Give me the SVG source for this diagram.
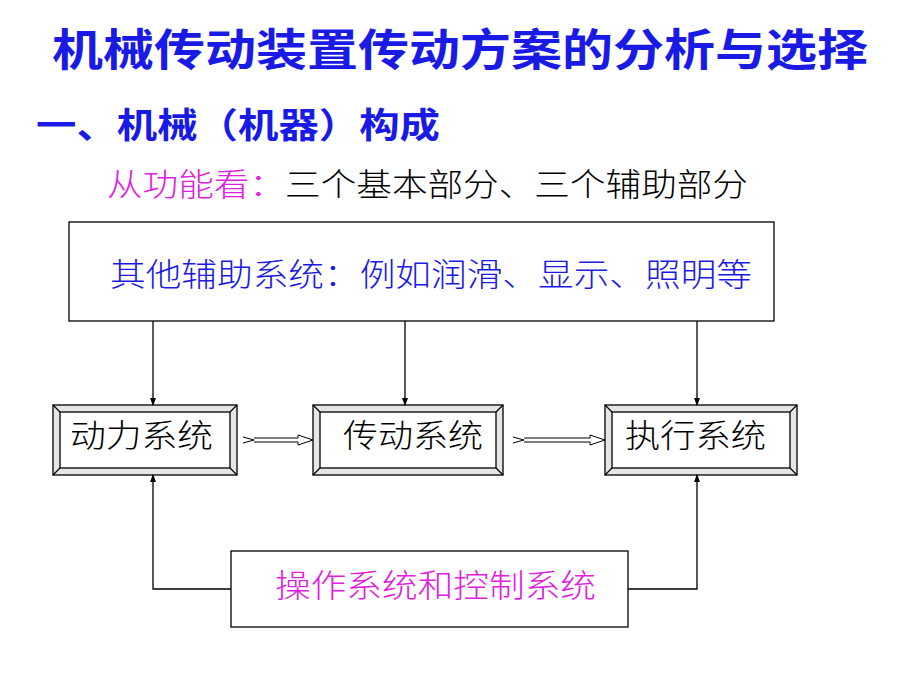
<svg xmlns="http://www.w3.org/2000/svg" width="920" height="690" viewBox="0 0 920 690">
<style>
text{font-family:"Liberation Serif","Noto Sans CJK SC",serif}
.b{font-family:"Noto Sans CJK SC",sans-serif;font-weight:bold;fill:#1a1ae6}
.box{fill:#fff;stroke:#000;stroke-width:1.3}
.bev{fill:#e6e6e6;stroke:#000;stroke-width:1.3}
.ln{fill:none;stroke:#000;stroke-width:1.3}
.t{font-size:32px;fill:#000;font-weight:300}
</style>
<defs>
<marker id="ah" markerWidth="8" markerHeight="8" refX="7" refY="4" orient="auto" markerUnits="userSpaceOnUse"><path d="M0,1 L8,4 L0,7 Z" fill="#000"/></marker>
</defs>
<rect width="920" height="690" fill="#fff"/>
<text class="b" x="52" y="66" font-size="44" textLength="816" lengthAdjust="spacingAndGlyphs">机械传动装置传动方案的分析与选择</text>
<text class="b" x="36" y="138" font-size="35" textLength="404" lengthAdjust="spacingAndGlyphs">一、机械（机器）构成</text>
<text x="107" y="196" font-size="32" font-weight="300" textLength="641" lengthAdjust="spacingAndGlyphs"><tspan fill="#e020e0">从功能看：</tspan><tspan fill="#000">三个基本部分、三个辅助部分</tspan></text>
<g id="top"><rect class="box" x="69" y="222" width="705" height="99"/>
<text x="110" y="286" font-size="32" font-weight="300" fill="#1a1ae6" textLength="642" lengthAdjust="spacingAndGlyphs">其他辅助系统：例如润滑、显示、照明等</text></g>
<g id="power"><rect class="bev" x="53" y="405" width="184" height="70"/><rect class="box" x="60" y="412" width="170" height="56"/>
<path class="ln" d="M53,405 L60,412 M237,405 L230,412 M53,475 L60,468 M237,475 L230,468"/>
<text class="t" x="70" y="447" textLength="143" lengthAdjust="spacingAndGlyphs">动力系统</text></g>
<g id="trans"><rect class="bev" x="313" y="405" width="190" height="70"/><rect class="box" x="320" y="412" width="176" height="56"/>
<path class="ln" d="M313,405 L320,412 M503,405 L496,412 M313,475 L320,468 M503,475 L496,468"/>
<text class="t" x="343" y="447" textLength="140" lengthAdjust="spacingAndGlyphs">传动系统</text></g>
<g id="exec"><rect class="bev" x="605" y="405" width="192" height="70"/><rect class="box" x="612" y="412" width="178" height="56"/>
<path class="ln" d="M605,405 L612,412 M797,405 L790,412 M605,475 L612,468 M797,475 L790,468"/>
<text class="t" x="625" y="447" textLength="141" lengthAdjust="spacingAndGlyphs">执行系统</text></g>
<g id="ctrl"><rect class="box" x="231" y="551" width="397" height="76"/>
<text x="275" y="597" font-size="32" font-weight="300" fill="#e020e0" textLength="321" lengthAdjust="spacingAndGlyphs">操作系统和控制系统</text></g>
<g id="connectors">
<path class="ln" d="M153,321 V405" marker-end="url(#ah)"/>
<path class="ln" d="M405,321 V405" marker-end="url(#ah)"/>
<path class="ln" d="M697,321 V405" marker-end="url(#ah)"/>
<path class="ln" d="M231,589 H153 V475" marker-end="url(#ah)"/>
<path class="ln" d="M628,589 H697 V475" marker-end="url(#ah)"/>
<path fill="#fff" stroke="#000" stroke-width="1" d="M243,437 L254,440 L243,443 M254,438 H298 V435 L313,440 L298,445 V442 H254"/>
<path fill="#fff" stroke="#000" stroke-width="1" d="M513,437 L524,440 L513,443 M524,438 H590 V435 L605,440 L590,445 V442 H524"/>
</g>
</svg>
